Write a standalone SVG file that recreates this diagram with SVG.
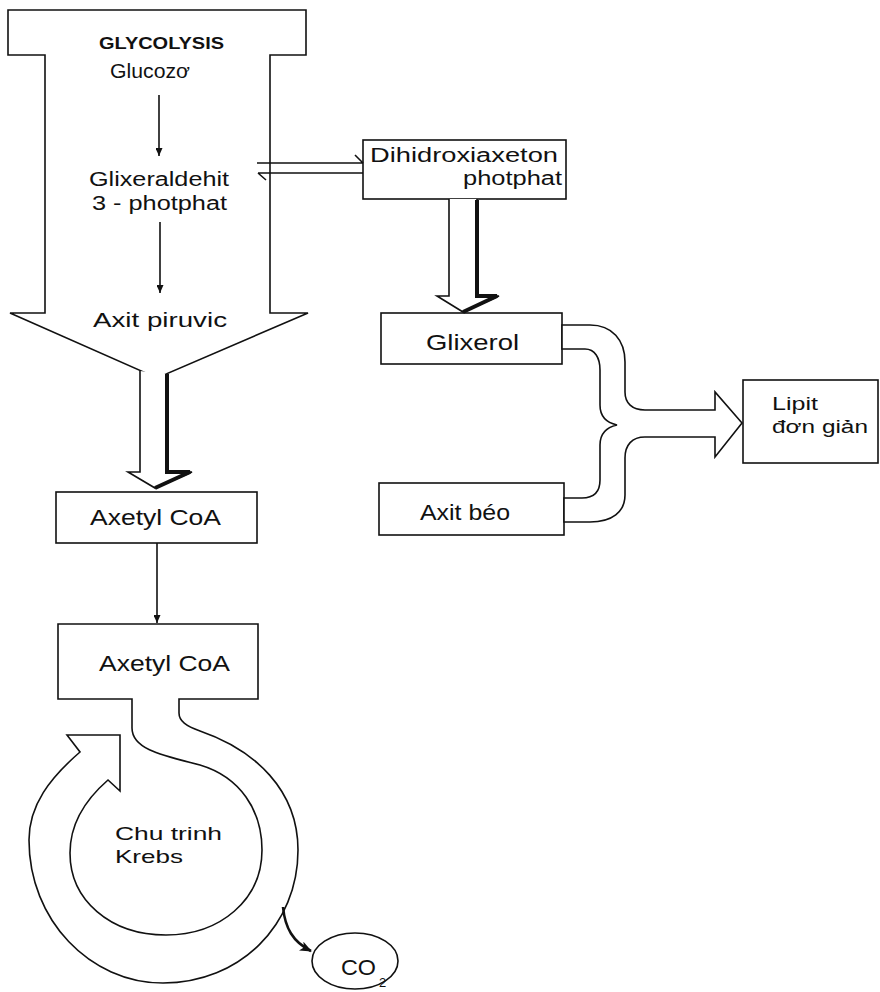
<svg xmlns="http://www.w3.org/2000/svg" width="880" height="992" viewBox="0 0 880 992">
<defs>
<marker id="ah" markerUnits="userSpaceOnUse" markerWidth="8" markerHeight="7" refX="8" refY="3.5" orient="auto"><path d="M0,0 L8,3.5 L0,7 z" fill="#111"/></marker>
<marker id="ahb" markerUnits="userSpaceOnUse" markerWidth="12" markerHeight="10" refX="11" refY="5" orient="auto"><path d="M0,0 L12,5 L0,10 L3,5 z" fill="#111"/></marker>
</defs>
<style>
.o{fill:#fff;stroke:#111;stroke-width:1.6;stroke-linejoin:miter}
.n{fill:none;stroke:#111;stroke-width:1.6}
.th{fill:none;stroke:#111;stroke-width:4}
.t{font-family:"Liberation Sans",Arial,sans-serif;fill:#111}
</style>
<rect width="880" height="992" fill="#fff"/>
<g id="glycolysis">
<path class="o" d="M8,10 H306 V55 H270 V313 H308 L157,378 L10,313 H45 V55 H8 Z"/>
<text class="t" x="99" y="49" font-size="16" font-weight="bold" textLength="125" lengthAdjust="spacingAndGlyphs">GLYCOLYSIS</text>
<text class="t" x="110" y="78" font-size="21" textLength="80" lengthAdjust="spacingAndGlyphs">Glucozơ</text>
<text class="t" x="89" y="186" font-size="20" textLength="140" lengthAdjust="spacingAndGlyphs">Glixeraldehit</text>
<text class="t" x="92" y="210" font-size="20" textLength="135" lengthAdjust="spacingAndGlyphs">3 - photphat</text>
<text class="t" x="93" y="327" font-size="21" textLength="134" lengthAdjust="spacingAndGlyphs">Axit piruvic</text>
</g>
<g id="dihidroxiaxeton">
<rect class="o" x="363" y="140" width="203" height="59"/>
<text class="t" x="370" y="162" font-size="20" textLength="188" lengthAdjust="spacingAndGlyphs">Dihidroxiaxeton</text>
<text class="t" x="463" y="185" font-size="20" textLength="99" lengthAdjust="spacingAndGlyphs">photphat</text>
</g>
<g id="glixerol">
<rect class="o" x="381" y="313" width="181" height="51"/>
<text class="t" x="426" y="350" font-size="22" textLength="93" lengthAdjust="spacingAndGlyphs">Glixerol</text>
</g>
<g id="axit-beo">
<rect class="o" x="379" y="483" width="185" height="52"/>
<text class="t" x="420" y="520" font-size="22" textLength="90" lengthAdjust="spacingAndGlyphs">Axit béo</text>
</g>
<g id="lipit">
<rect class="o" x="743" y="380" width="135" height="83"/>
<text class="t" x="772" y="410" font-size="19" textLength="46" lengthAdjust="spacingAndGlyphs">Lipit</text>
<text class="t" x="772" y="433" font-size="19" textLength="96" lengthAdjust="spacingAndGlyphs">đơn giản</text>
</g>
<g id="axetyl-coa-1">
<rect class="o" x="56" y="492" width="201" height="51"/>
<text class="t" x="90" y="525" font-size="22" textLength="131" lengthAdjust="spacingAndGlyphs">Axetyl CoA</text>
</g>
<g id="axetyl-coa-2">
<path class="o" d="M58,624 H258 V699 H179 V713 C179,721 186,726 200,731 C255,750 298,790 298,850 C298,925 240,983 163,983 C90,983 29,920 29,840 C29,805 50,778 80,752 L67,735 H120 V791 L108,780 C85,800 70,825 70,853 C70,900 110,935 166,935 C220,935 262,900 262,850 C262,810 240,777 200,765 C165,756 132,750 132,728 V699 H58 Z"/>
<text class="t" x="99" y="671" font-size="22" textLength="131" lengthAdjust="spacingAndGlyphs">Axetyl CoA</text>
<text class="t" x="115" y="840" font-size="19" textLength="107" lengthAdjust="spacingAndGlyphs">Chu trinh</text>
<text class="t" x="115" y="863" font-size="19" textLength="68" lengthAdjust="spacingAndGlyphs">Krebs</text>
</g>
<g id="co2">
<ellipse class="o" cx="355" cy="961" rx="43" ry="28"/>
<text class="t" x="341" y="975" font-size="22" textLength="35" lengthAdjust="spacingAndGlyphs">CO</text>
<text class="t" x="379" y="987" font-size="13">2</text>
</g>
<g id="connectors">
<line class="n" x1="159" y1="95" x2="159" y2="156" marker-end="url(#ah)"/>
<line class="n" x1="160" y1="222" x2="160" y2="293" marker-end="url(#ah)"/>
<line class="n" x1="157" y1="543" x2="157" y2="623" marker-end="url(#ah)"/>
<path class="n" d="M257,163 H363 M355,155 L363,163"/>
<path class="n" d="M258,173 H363 M258,173 L266,180"/>
<path class="o" d="M140,371 V472 H128 L155,488 L192,472 H167 V374"/>
<path class="th" d="M167,374 V472 H190 L155,488"/>
<path class="o" d="M449,199 V296 H437 L463,312 L499,296 H477 V199"/>
<path class="th" d="M477,200 V296 H497 L463,312"/>
<path class="o" d="M562,325 H590 C612,325 625,340 625,362 V392 C625,403 632,410 645,410 H715 V392 L742,423 L715,457 V437 H645 C632,437 625,445 625,458 V495 C625,512 612,522 590,522 H564 V498 H582 C594,498 600,492 600,480 V445 C600,432 608,427 617,425 C608,423 600,418 600,405 V370 C600,358 595,349 585,349 H562 Z"/>
<path class="n" style="stroke-width:2.6" d="M283,907 C285,928 293,942 311,951" marker-end="url(#ahb)"/>
</g>
</svg>
